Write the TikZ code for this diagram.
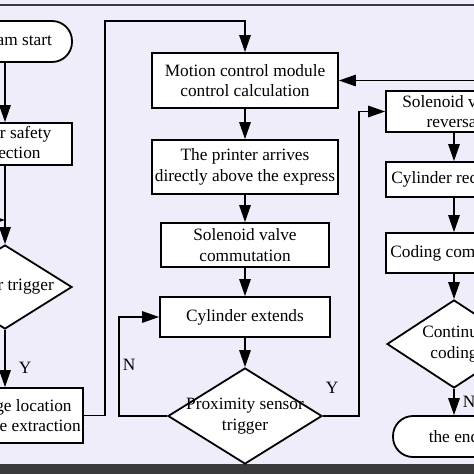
\documentclass[tikz,border=0pt]{standalone}
\usepackage{fontspec}
\setmainfont{Liberation Serif}
\usetikzlibrary{positioning}
\usetikzlibrary{arrows.meta}
\usetikzlibrary{shapes.geometric}

\definecolor{paper}{RGB}{240,237,250}
\definecolor{rim}{RGB}{58,58,62}
\newcommand{\flowfont}{\fontsize{17.3}{20.5}\selectfont}

\tikzset{
  procbox/.style={draw, line width=1.8pt, fill=white, align=center, inner sep=1pt, font=\flowfont},
  termbox/.style={procbox, rounded corners=20pt},
  decide/.style={diamond, draw, line width=1.8pt, fill=white, inner sep=0pt},
  flow/.style={line width=1.4pt, -{Triangle[length=17pt,width=11.5pt]}},
  branch/.style={font=\flowfont, inner sep=0pt}
}

\begin{document}
\begin{tikzpicture}[x=1pt, y=-1pt]
	% page and frame
	\useasboundingbox (0,0) rectangle (474,474);
	\fill[paper] (0,0) rectangle (474,474);
	\draw[rim, line width=1.8pt] (0,5) -- (474,5);
	\fill[rim] (0,464) rectangle (474,474);

	% left column
	\node[termbox, minimum width=134pt, minimum height=41pt] (start) at (5,41.5) {Program start};
	\node[procbox, minimum width=134pt, minimum height=42pt] (safety) at (5,144) {Printer safety\\inspection};
	\node[decide, minimum width=134pt, minimum height=84pt, label={[font=\flowfont]center:Sensor trigger}] (sensor) at (5,287) {};
	\node[procbox, minimum width=126pt, minimum height=55pt] (extract) at (20,415.5) {Image location\\feature extraction};

	% middle column
	\node[procbox, minimum width=186pt, minimum height=55pt] (motion) at (245,80.5) {Motion control module\\control calculation};
	\node[procbox, minimum width=186pt, minimum height=54pt] (printer) at (245,167) {The printer arrives\\directly above the express};
	\node[procbox, minimum width=168pt, minimum height=44pt] (commut) at (245,245) {Solenoid valve\\commutation};
	\node[procbox, minimum width=170pt, minimum height=40pt] (cylext) at (245,317) {Cylinder extends};
	\node[decide, minimum width=154pt, minimum height=96pt, label={[font=\flowfont, align=center]center:Proximity sensor\\trigger}] (prox) at (245,416) {};

	% right column
	\node[procbox, minimum width=136pt, minimum height=41pt] (reversal) at (454,111.5) {Solenoid valve\\reversal};
	\node[procbox, minimum width=136pt, minimum height=35pt] (retract) at (454,179.5) {Cylinder recovery};
	\node[procbox, minimum width=136pt, minimum height=40pt] (coded) at (454,253) {Coding completed};
	\node[decide, minimum width=134pt, minimum height=88pt, label={[font=\flowfont, align=center]center:Continue\\coding}] (cont) at (454,344) {};
	\node[termbox, minimum width=122pt, minimum height=41pt] (finish) at (454,436.5) {the end};

	% turning points
	\coordinate (rejoin) at (5,220);
	\coordinate (topturn) at (105,21);

	% connectors
	\draw[flow] (start) -- (safety);
	\draw[flow] (safety) -- (sensor);
	\draw[flow] (sensor.west) -- ++(-20,0) |- (rejoin);
	\draw[flow] (sensor.south) -- (sensor.south |- extract.north);
	\draw[flow] (extract.east) -| (topturn) -| (motion.north);
	\draw[flow] (motion) -- (printer);
	\draw[flow] (printer) -- (commut);
	\draw[flow] (commut) -- (cylext);
	\draw[flow] (cylext) -- (prox);
	\draw[flow] (prox.west) -- ++(-48,0) |- (cylext.west);
	\draw[flow] (prox.east) -- ++(36,0) |- (reversal.west);
	\draw[flow] (reversal) -- (retract);
	\draw[flow] (retract) -- (coded);
	\draw[flow] (coded) -- (cont);
	\draw[flow] (cont) -- (finish);
	\draw[flow] (cont.east) -- ++(30,0) |- (motion.east);

	% branch labels
	\node[branch] (yleft) at (25,368) {Y};
	\node[branch] (nmid) at (129,365) {N};
	\node[branch] (ymid) at (332,388) {Y};
	\node[branch] (nright) at (469,402) {N};
\end{tikzpicture}
\end{document}
